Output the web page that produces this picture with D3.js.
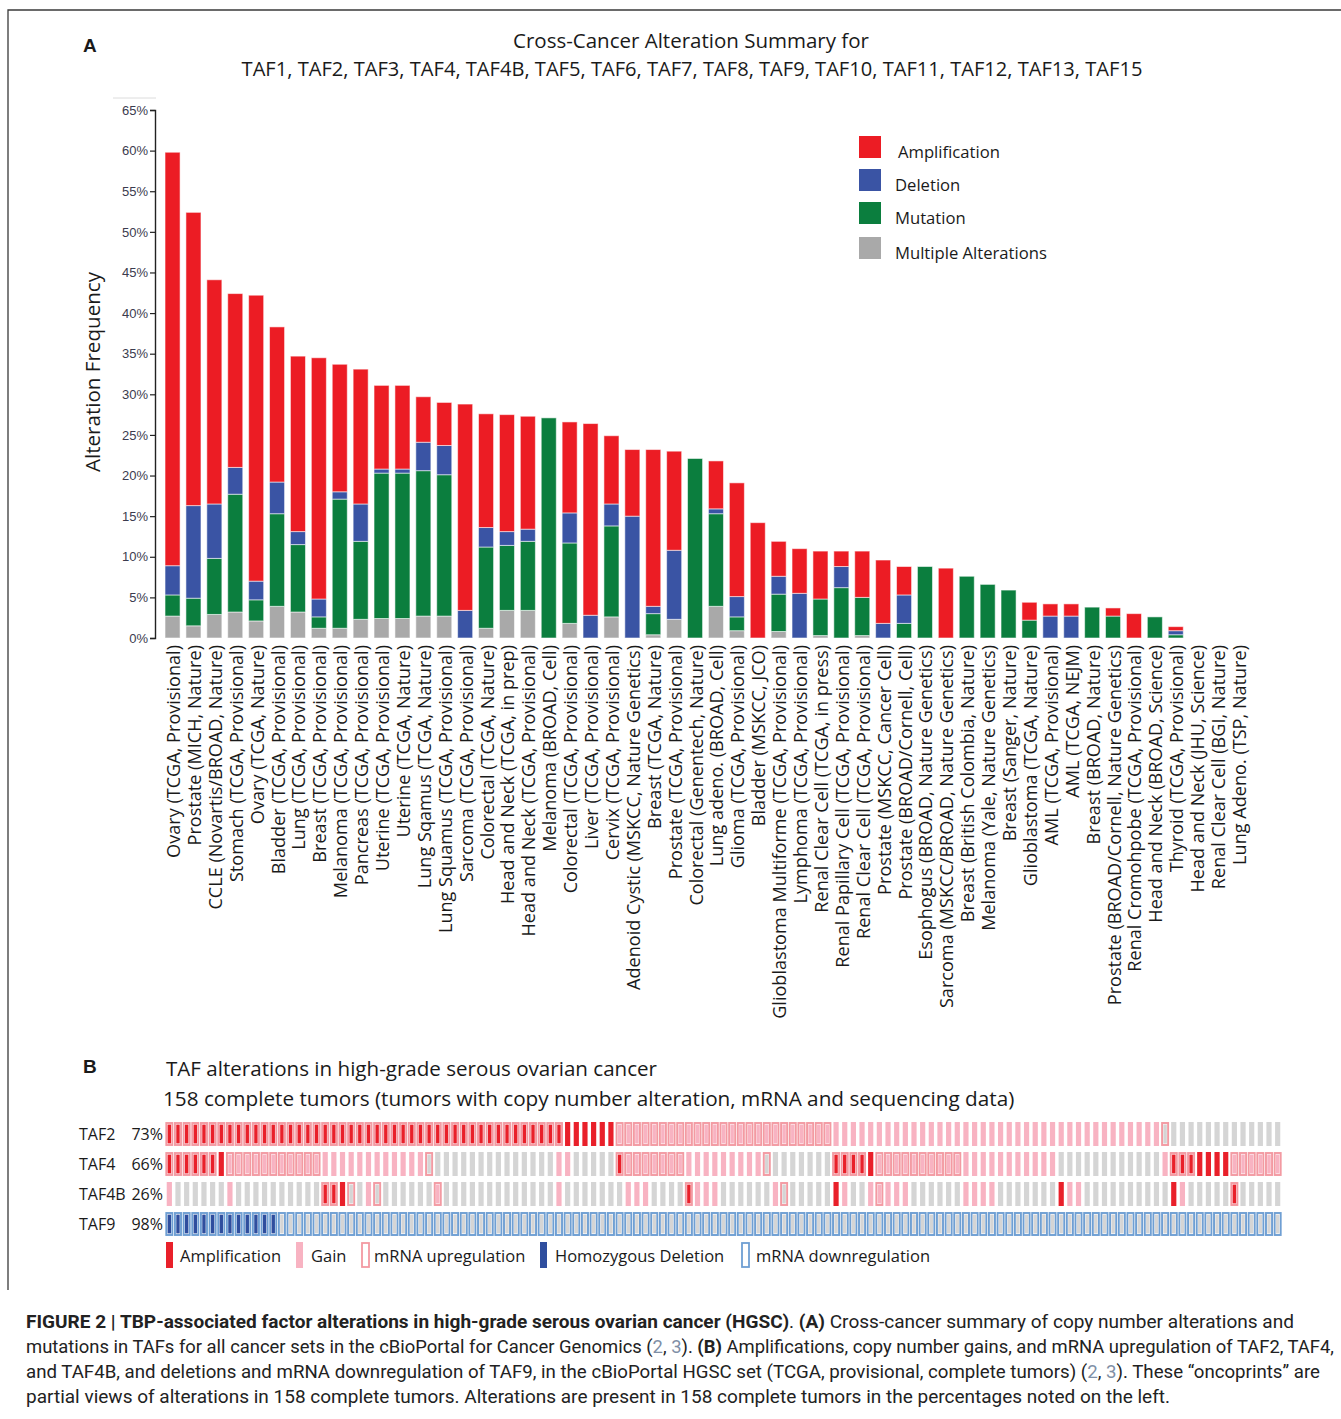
<!DOCTYPE html>
<html>
<head>
<meta charset="utf-8">
<script src="https://cdn.jsdelivr.net/npm/d3@7"></script>
<style>
  body { margin: 0; background: #fff; }
  svg { display: block; }
</style>
</head>
<body>
<svg id="fig" width="1341" height="1419"></svg>
<script>
// ---------- Panel A: cross-cancer alteration summary ----------
const categories = [
  "Ovary (TCGA, Provisional)", "Prostate (MICH, Nature)", "CCLE (Novartis/BROAD, Nature)",
  "Stomach (TCGA, Provisional)", "Ovary (TCGA, Nature)", "Bladder (TCGA, Provisional)",
  "Lung (TCGA, Provisional)", "Breast (TCGA, Provisional)", "Melanoma (TCGA, Provisional)",
  "Pancreas (TCGA, Provisional)", "Uterine (TCGA, Provisional)", "Uterine (TCGA, Nature)",
  "Lung Sqamus (TCGA, Nature)", "Lung Squamus (TCGA, Provisional)", "Sarcoma (TCGA, Provisional)",
  "Colorectal (TCGA, Nature)", "Head and Neck (TCGA, in prep)", "Head and Neck (TCGA, Provisional)",
  "Melanoma (BROAD, Cell)", "Colorectal (TCGA, Provisional)", "Liver (TCGA, Provisional)",
  "Cervix (TCGA, Provisional)", "Adenoid Cystic (MSKCC, Nature Genetics)", "Breast (TCGA, Nature)",
  "Prostate (TCGA, Provisional)", "Colorectal (Genentech, Nature)", "Lung adeno. (BROAD, Cell)",
  "Glioma (TCGA, Provisional)", "Bladder (MSKCC, JCO)", "Glioblastoma Multiforme (TCGA, Provisional)",
  "Lymphoma (TCGA, Provisional)", "Renal Clear Cell (TCGA, in press)", "Renal Papillary Cell (TCGA, Provisional)",
  "Renal Clear Cell (TCGA, Provisional)", "Prostate (MSKCC, Cancer Cell)", "Prostate (BROAD/Cornell, Cell)",
  "Esophogus (BROAD, Nature Genetics)", "Sarcoma (MSKCC/BROAD, Nature Genetics)", "Breast (British Colombia, Nature)",
  "Melanoma (Yale, Nature Genetics)", "Breast (Sanger, Nature)", "Glioblastoma (TCGA, Nature)",
  "AML (TCGA, Provisional)", "AML (TCGA, NEJM)", "Breast (BROAD, Nature)",
  "Prostate (BROAD/Cornell, Nature Genetics)", "Renal Cromohpobe (TCGA, Provisional)", "Head and Neck (BROAD, Science)",
  "Thyroid (TCGA, Provisional)", "Head and Neck (JHU, Science)", "Renal Clear Cell (BGI, Nature)",
  "Lung Adeno. (TSP, Nature)"
];
// percent of cases per alteration type (stacked)
const amplification = [50.9, 36.1, 27.6, 21.4, 35.2, 19.1, 21.6, 29.7, 15.7, 16.6, 10.3, 10.3,
  5.6, 5.3, 25.4, 14.0, 14.4, 13.9, 0, 11.2, 23.6, 8.4, 8.2, 19.3, 12.2, 0, 5.9, 14.0, 14.2, 4.3,
  5.5, 5.9, 1.9, 5.7, 7.8, 3.5, 0, 8.6, 0, 0, 0, 2.2, 1.5, 1.5, 0, 1.0, 3.0, 0, 0.5, 0, 0, 0];
const deletion = [3.6, 11.4, 6.7, 3.3, 2.3, 3.9, 1.6, 2.2, 0.9, 4.6, 0.5, 0.5,
  3.5, 3.6, 3.4, 2.4, 1.7, 1.5, 0, 3.7, 2.8, 2.7, 15.0, 0.9, 8.5, 0, 0.6, 2.5, 0, 2.2,
  5.5, 0, 2.6, 0, 1.8, 3.5, 0, 0, 0, 0, 0, 0, 2.7, 2.7, 0, 0, 0, 0, 0.5, 0, 0, 0];
const mutation = [2.6, 3.4, 6.9, 14.5, 2.6, 11.4, 8.3, 1.4, 15.9, 9.6, 17.9, 17.9,
  17.9, 17.4, 0, 10.0, 8.0, 8.5, 27.1, 9.9, 0, 11.2, 0, 2.6, 0, 22.1, 11.4, 1.7, 0, 4.6,
  0, 4.5, 6.2, 4.7, 0, 1.8, 8.8, 0, 7.6, 6.6, 5.9, 2.2, 0, 0, 3.8, 2.7, 0, 2.6, 0.4, 0, 0, 0];
const multiple = [2.7, 1.5, 2.9, 3.2, 2.1, 3.9, 3.2, 1.2, 1.2, 2.3, 2.4, 2.4,
  2.7, 2.7, 0, 1.2, 3.4, 3.4, 0, 1.8, 0, 2.6, 0, 0.4, 2.3, 0, 3.9, 0.9, 0, 0.8,
  0, 0.3, 0, 0.3, 0, 0, 0, 0, 0, 0, 0, 0, 0, 0, 0, 0, 0, 0, 0, 0, 0, 0];
const yTicks = [0, 5, 10, 15, 20, 25, 30, 35, 40, 45, 50, 55, 60, 65];
const seriesKeys = ["multiple", "mutation", "deletion", "amplification"];
const legendLabels = ["Amplification", "Deletion", "Mutation", "Multiple Alterations"];
const legendKeys = ["amplification", "deletion", "mutation", "multiple"];

// ---------- Panel B: HGSC oncoprint ----------
const genes = ["TAF2", "TAF4", "TAF4B", "TAF9"];
const genePct = ["73%", "66%", "26%", "98%"];
// codes: a amp, A amp+mRNA up, g gain, G gain+mRNA up, . none, u mRNA up only,
//        D hom. deletion+mRNA down, d mRNA down only   (runs of [code, count])
const taf2Runs = [["A", 46], ["a", 6], ["G", 25], ["g", 38], ["u", 1], [".", 13]];
const taf4Runs = [["A", 6], ["a", 1], ["G", 11], ["g", 12], ["u", 1], [".", 14], ["g", 2], [".", 5],
  ["A", 1], ["G", 7], ["g", 9], ["u", 1], [".", 7], ["A", 4], ["a", 1], ["G", 10], ["g", 11], [".", 12],
  ["g", 1], ["A", 3], ["a", 4], ["G", 6]];
const taf4bRuns = [["g", 1], [".", 6], ["g", 1], [".", 10], ["A", 2], ["a", 1], ["u", 1], [".", 1],
  ["g", 1], ["u", 1], [".", 6], ["G", 1], [".", 13], ["g", 1], [".", 7], ["g", 3], [".", 4], ["A", 1],
  ["g", 3], [".", 6], ["g", 1], ["u", 1], [".", 5], ["a", 1], ["g", 1], [".", 2], ["g", 1], ["G", 1],
  ["g", 3], [".", 6], ["g", 4], [".", 7], ["a", 1], ["g", 2], [".", 10], ["a", 1], ["g", 1], [".", 5],
  ["A", 1], [".", 5]];
const taf9Runs = [["D", 13], ["d", 116]];
const oncoLegend = ["Amplification", "Gain", "mRNA upregulation", "Homozygous Deletion", "mRNA downregulation"];
const oncoLegendCodes = ["a", "g", "u", "D", "d"];

// ---------- drawing ----------
const FONT = "'Open Sans', 'Noto Sans', sans-serif";
const svg = d3.select("#fig");
const ink = "#1a1a1a";

const barColor = {
  amplification: "#ec1c24",
  deletion: "#3a54a4",
  mutation: "#0b7e3e",
  multiple: "#a9a9a9"
};

function fitWidth(sel, target) {
  const node = sel.node();
  const fs = parseFloat(sel.attr("font-size"));
  const len = node.getComputedTextLength();
  sel.attr("font-size", (fs * target / len).toFixed(2));
}

// frame
svg.append("path").attr("d", "M8,1290V10H1341")
  .attr("fill", "none").attr("stroke", "#3a3a3a").attr("stroke-width", 1.3);

// panel letters
svg.append("text").attr("x", 83).attr("y", 52).attr("font-family", "Arial, 'Liberation Sans', sans-serif")
  .attr("font-weight", "bold").attr("font-size", 19).attr("fill", ink).text("A");
svg.append("text").attr("x", 83).attr("y", 1073).attr("font-family", "Arial, 'Liberation Sans', sans-serif")
  .attr("font-weight", "bold").attr("font-size", 19).attr("fill", ink).text("B");

// title
const t1 = svg.append("text").attr("x", 691).attr("y", 48).attr("text-anchor", "middle")
  .attr("font-family", FONT).attr("font-size", 20).attr("fill", ink)
  .text("Cross-Cancer Alteration Summary for");
fitWidth(t1, 356);
const t2 = svg.append("text").attr("x", 692).attr("y", 76).attr("text-anchor", "middle")
  .attr("font-family", FONT).attr("font-size", 20).attr("fill", ink)
  .text("TAF1, TAF2, TAF3, TAF4, TAF4B, TAF5, TAF6, TAF7, TAF8, TAF9, TAF10, TAF11, TAF12, TAF13, TAF15");
fitWidth(t2, 901);

// scales
const x = d3.scaleBand().domain(categories).range([159.8, 1251.2]).paddingInner(0.28).paddingOuter(0.25);
const y = d3.scaleLinear().domain([0, 65]).range([638, 110]);

const rows = categories.map((c, i) => ({
  cat: c, amplification: amplification[i], deletion: deletion[i],
  mutation: mutation[i], multiple: multiple[i]
}));
const stacked = d3.stack().keys(seriesKeys)(rows);

// faint top rule by the axis
svg.append("line").attr("x1", 113).attr("x2", 156).attr("y1", 98).attr("y2", 98)
  .attr("stroke", "#dcdcdc").attr("stroke-width", 1);

// y axis
const yAxis = svg.append("g").attr("transform", "translate(155,0)")
  .call(d3.axisLeft(y).tickValues(yTicks).tickFormat(d => d + "%").tickSize(5).tickPadding(2));
yAxis.select(".domain").attr("stroke", "#222").attr("stroke-width", 1.4);
yAxis.selectAll(".tick line").attr("stroke", "#222").attr("stroke-width", 1.2);
yAxis.selectAll(".tick text").attr("font-family", "Arial, 'Liberation Sans', sans-serif")
  .attr("font-size", 13).attr("fill", "#3b3b4e");

// y title
const yt = svg.append("text").attr("transform", "translate(100,372) rotate(-90)")
  .attr("text-anchor", "middle").attr("font-family", FONT).attr("font-size", 20).attr("fill", ink)
  .text("Alteration Frequency");
fitWidth(yt, 200);

// stacked bars
svg.append("g").selectAll("g").data(stacked).join("g")
  .attr("fill", d => barColor[d.key])
  .selectAll("rect").data(d => d.filter(s => s[1] - s[0] > 0)).join("rect")
  .attr("x", d => x(d.data.cat))
  .attr("width", x.bandwidth())
  .attr("y", d => y(d[1]))
  .attr("height", d => y(d[0]) - y(d[1]))
  .attr("stroke", "#ffffff").attr("stroke-opacity", 0.55).attr("stroke-width", 1);

// category labels
const xl = svg.append("g").selectAll("text").data(categories).join("text")
  .attr("transform", d => `translate(${x(d) + x.bandwidth() / 2 + 1},645) rotate(-90)`)
  .attr("text-anchor", "end").attr("dy", "0.36em")
  .attr("font-family", FONT).attr("font-size", 17).attr("fill", ink)
  .text(d => d);
{
  const first = xl.filter((d, i) => i === 0);
  const len = first.node().getComputedTextLength();
  xl.attr("font-size", (17 * 213 / len).toFixed(2));
}

// legend (panel A)
const lg = svg.append("g");
const legY = [136, 169, 202, 237];
const legTextX = [898, 895, 895, 895];
legendKeys.forEach((k, i) => {
  lg.append("rect").attr("x", 859).attr("y", legY[i]).attr("width", 22).attr("height", 22)
    .attr("fill", barColor[k]);
  lg.append("text").attr("x", legTextX[i]).attr("y", legY[i] + 22)
    .attr("font-family", FONT).attr("font-size", 17).attr("fill", ink).text(legendLabels[i]);
});
fitWidth(lg.selectAll("text").filter((d, i) => i === 3), 152);
{
  const fs = lg.selectAll("text").filter((d, i) => i === 3).attr("font-size");
  lg.selectAll("text").attr("font-size", fs);
}

// ---------- Panel B ----------
const b1 = svg.append("text").attr("x", 166).attr("y", 1076)
  .attr("font-family", FONT).attr("font-size", 21).attr("fill", ink)
  .text("TAF alterations in high-grade serous ovarian cancer");
fitWidth(b1, 491);
const b2 = svg.append("text").attr("x", 163).attr("y", 1106)
  .attr("font-family", FONT).attr("font-size", 21).attr("fill", ink)
  .text("158 complete tumors (tumors with copy number alteration, mRNA and sequencing data)");
fitWidth(b2, 852);

const runsByGene = [taf2Runs, taf4Runs, taf4bRuns, taf9Runs];
const cellsByGene = runsByGene.map(runs => runs.flatMap(([c, n]) => Array(n).fill(c)));
const nCols = cellsByGene[0].length;

const col = d3.scaleBand().domain(d3.range(nCols)).range([165, 1282]);
const row = d3.scaleBand().domain(genes).range([1119, 1239]).paddingInner(0.2).paddingOuter(0.1);

const cellFill = { ".": "#d5d5d5", "u": "#d5d5d5", "d": "#d5d5d5",
  "g": "#f8b3c2", "G": "#f8b3c2", "a": "#e9202a", "A": "#e9202a", "D": "#2f4e9e" };
const outlineColor = { "A": "#f39aa2", "G": "#f39aa2", "u": "#f39aa2", "D": "#6f9fd3", "d": "#6f9fd3" };

const onco = svg.append("g");
genes.forEach((g, gi) => {
  const cells = cellsByGene[gi].map((c, i) => ({ c, i }));
  const gy = row(g), h = row.bandwidth(), s = col.step();
  const grp = onco.append("g");
  // plain cells
  grp.selectAll("rect.plain").data(cells.filter(d => !outlineColor[d.c])).join("rect")
    .attr("class", "plain")
    .attr("x", d => col(d.i) + s * 0.2).attr("width", s * 0.6)
    .attr("y", gy).attr("height", h)
    .attr("fill", d => cellFill[d.c]);
  // expression-outlined cells
  const out = cells.filter(d => outlineColor[d.c]);
  grp.selectAll("rect.box").data(out).join("rect")
    .attr("class", "box")
    .attr("x", d => col(d.i) + 1.3).attr("width", s - 2.6)
    .attr("y", gy + 1).attr("height", h - 2)
    .attr("fill", "#fbe9ec")
    .attr("fill-opacity", d => (d.c === "D" || d.c === "d") ? 0 : 0.5)
    .attr("stroke", d => outlineColor[d.c]).attr("stroke-width", 1.9);
  grp.selectAll("rect.inner").data(out).join("rect")
    .attr("class", "inner")
    .attr("x", d => col(d.i) + s / 2 - 1.7).attr("width", 3.4)
    .attr("y", gy + 2.6).attr("height", h - 5.2)
    .attr("fill", d => cellFill[d.c]);
  // row labels
  svg.append("text").attr("x", 79).attr("y", gy + h / 2 + 6)
    .attr("font-family", FONT).attr("font-size", 16).attr("fill", ink).text(g);
  svg.append("text").attr("x", 163).attr("y", gy + h / 2 + 6).attr("text-anchor", "end")
    .attr("font-family", FONT).attr("font-size", 16).attr("fill", ink).text(genePct[gi]);
});

// oncoprint legend: expression calls shown as outlines, copy-number calls as solid bars
const olX = [166, 296, 361, 540, 741];
const olTextX = [180, 311, 374, 555, 756];
oncoLegend.forEach((lab, i) => {
  const c = oncoLegendCodes[i];
  if (c === "u" || c === "d") {
    svg.append("rect").attr("x", olX[i] + 1).attr("y", 1243).attr("width", 7).attr("height", 24)
      .attr("fill", "none").attr("stroke", outlineColor[c]).attr("stroke-width", 1.8);
  } else {
    svg.append("rect").attr("x", olX[i]).attr("y", 1242).attr("width", 7).attr("height", 26)
      .attr("fill", cellFill[c]);
  }
  svg.append("text").attr("x", olTextX[i]).attr("y", 1262)
    .attr("font-family", FONT).attr("font-size", 16.5).attr("fill", ink).text(lab);
});

// ---------- caption ----------
const CAP = "'Liberation Sans Narrow', 'Roboto', 'Liberation Sans', sans-serif";
const refColor = "#7f8fa6";
const capLines = [
  { y: 1328, w: 1268, parts: [
    ["FIGURE 2 | TBP-associated factor alterations in high-grade serous ovarian cancer (HGSC)", "b"],
    [". ", ""], ["(A)", "b"], [" Cross-cancer summary of copy number alterations and", ""]] },
  { y: 1353, w: 1308, parts: [
    ["mutations in TAFs for all cancer sets in the cBioPortal for Cancer Genomics (", ""], ["2", "r"], [", ", ""],
    ["3", "r"], ["). ", ""], ["(B)", "b"],
    [" Amplifications, copy number gains, and mRNA upregulation of TAF2, TAF4,", ""]] },
  { y: 1378, w: 1294, parts: [
    ["and TAF4B, and deletions and mRNA downregulation of TAF9, in the cBioPortal HGSC set (TCGA, provisional, complete tumors) (", ""],
    ["2", "r"], [", ", ""], ["3", "r"], ["). These \u201concoprints\u201d are", ""]] },
  { y: 1403, w: 1144, parts: [
    ["partial views of alterations in 158 complete tumors. Alterations are present in 158 complete tumors in the percentages noted on the left.", ""]] }
];
capLines.forEach(L => {
  const t = svg.append("text").attr("x", 26).attr("y", L.y)
    .attr("font-family", CAP).attr("font-size", 17.5).attr("fill", "#222")
    .attr("textLength", L.w).attr("lengthAdjust", "spacingAndGlyphs");
  L.parts.forEach(([s, st]) => {
    t.append("tspan").text(s)
      .attr("font-weight", st === "b" ? "bold" : null)
      .attr("fill", st === "r" ? refColor : null);
  });
});
</script>
</body>
</html>
